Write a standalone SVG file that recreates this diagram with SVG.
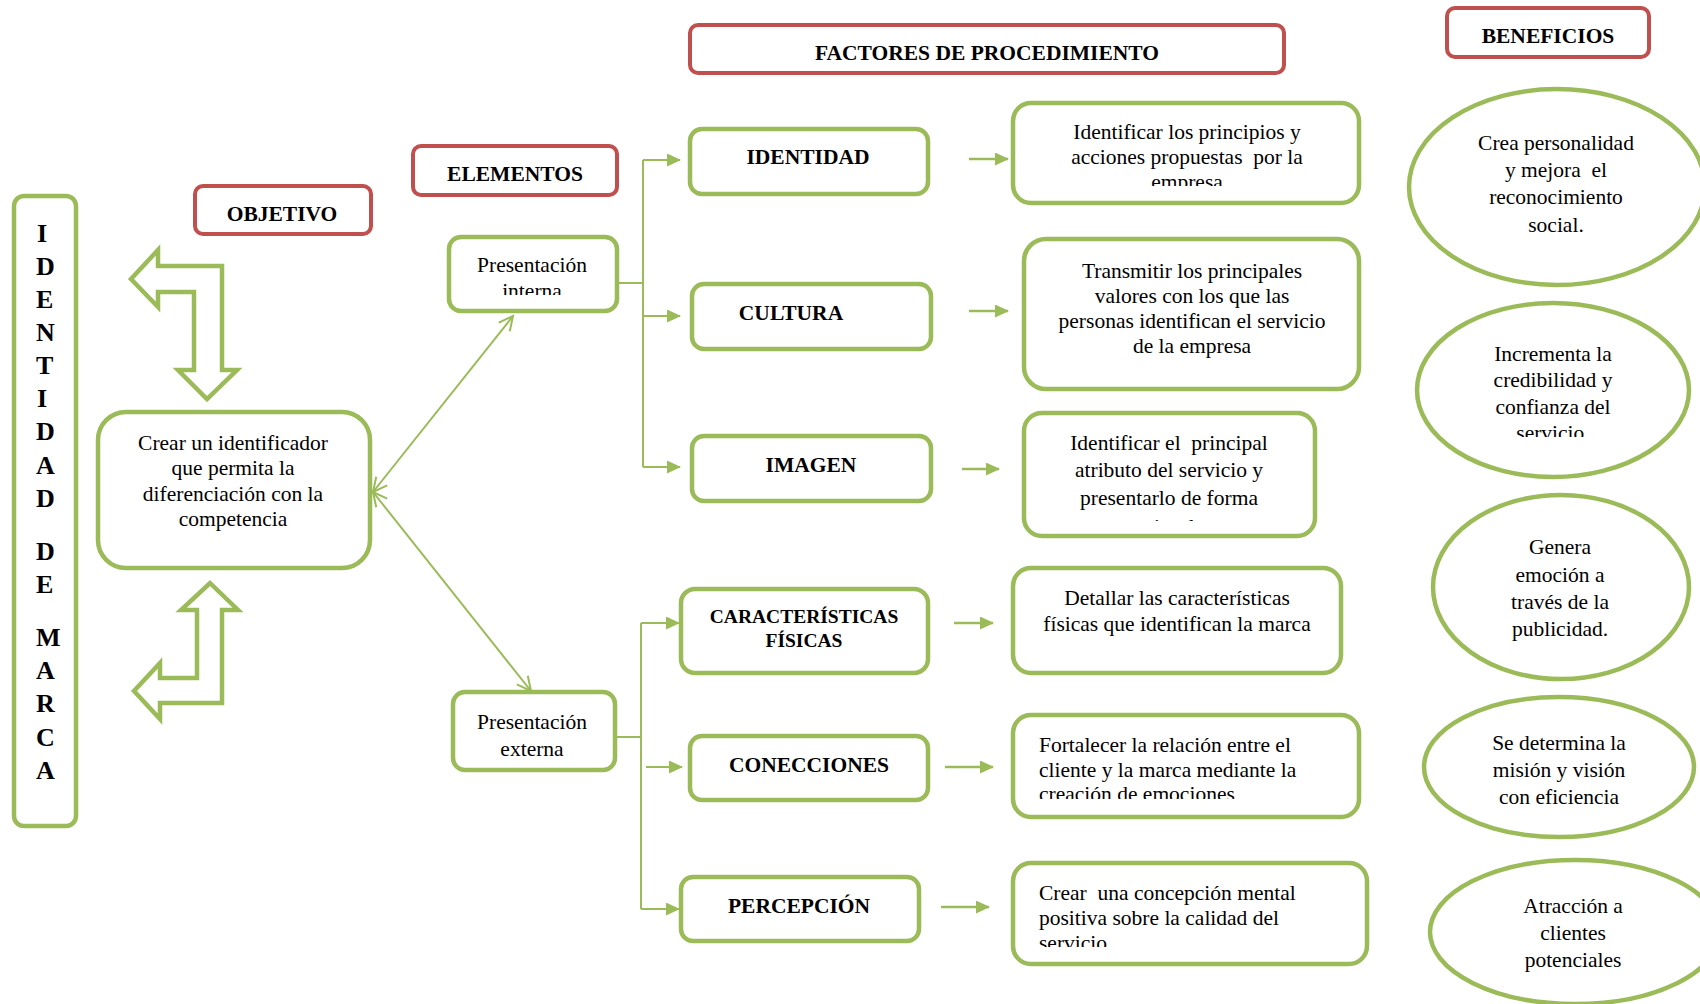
<svg xmlns="http://www.w3.org/2000/svg" width="1700" height="1004" viewBox="0 0 1700 1004">
  <style>
    .g { fill: #ffffff; stroke: #9BBB59; stroke-width: 4.5; }
    .r { fill: #ffffff; stroke: #C0504D; stroke-width: 4; }
    .t { font-family: "Liberation Serif", "Times New Roman", serif; font-size: 21.5px; fill: #000000; }
    .b { font-weight: bold; }
    .c { text-anchor: middle; }
    .v { font-family: "Liberation Serif", "Times New Roman", serif; font-size: 26px; font-weight: bold; fill: #000000; }
    .ln { fill: none; stroke: #9BBB59; stroke-width: 2; }
    .sa { fill: none; stroke: #9BBB59; stroke-width: 2.5; }
  </style>
  <defs>
    <marker id="tri" viewBox="0 0 14 13" refX="13" refY="6.5" markerWidth="14" markerHeight="13" markerUnits="userSpaceOnUse" orient="auto">
      <path d="M0,0 L14,6.5 L0,13 z" fill="#9BBB59"/>
    </marker>
    <marker id="vee" viewBox="-2 -2 18 18" refX="14" refY="7" markerWidth="18" markerHeight="18" markerUnits="userSpaceOnUse" orient="auto-start-reverse">
      <path d="M0,0 L14,7 L0,14" fill="none" stroke="#9BBB59" stroke-width="2"/>
    </marker>
    <clipPath id="clipInterna"><rect x="449" y="237" width="168" height="58"/></clipPath>
    <clipPath id="clipD1"><rect x="1013" y="103" width="346" height="83"/></clipPath>
    <clipPath id="clipD3"><rect x="1024" y="413" width="291" height="108"/></clipPath>
    <clipPath id="clipD5"><rect x="1013" y="715" width="346" height="84"/></clipPath>
    <clipPath id="clipD6"><rect x="1013" y="863" width="354" height="84"/></clipPath>
    <clipPath id="clipE2"><rect x="1417" y="303" width="273" height="134"/></clipPath>
  </defs>

  <!-- connectors -->
  <g id="connectors">
    <!-- internal presentation branch -->
    <path class="ln" d="M617,283 H643 M643,160 V467"/>
    <path class="ln" d="M643,160 H680" marker-end="url(#tri)"/>
    <path class="ln" d="M643,316 H680" marker-end="url(#tri)"/>
    <path class="ln" d="M643,467 H680" marker-end="url(#tri)"/>
    <!-- external presentation branch -->
    <path class="ln" d="M615,737 H641 M641,623 V909"/>
    <path class="ln" d="M641,623 H679" marker-end="url(#tri)"/>
    <path class="ln" d="M646,767 H682" marker-end="url(#tri)"/>
    <path class="ln" d="M641,909 H679" marker-end="url(#tri)"/>
    <!-- factor to description arrows -->
    <path class="sa" d="M969,159 H1008" marker-end="url(#tri)"/>
    <path class="sa" d="M969,311 H1008" marker-end="url(#tri)"/>
    <path class="sa" d="M962,469 H999" marker-end="url(#tri)"/>
    <path class="sa" d="M954,623 H993" marker-end="url(#tri)"/>
    <path class="sa" d="M945,767 H993" marker-end="url(#tri)"/>
    <path class="sa" d="M941,907 H989" marker-end="url(#tri)"/>
    <!-- objective to presentations (double headed) -->
    <path class="ln" d="M373,492 L513,316" marker-start="url(#vee)" marker-end="url(#vee)"/>
    <path class="ln" d="M373,492 L531,691" marker-start="url(#vee)" marker-end="url(#vee)"/>
    <!-- bent block arrows -->
    <polygon class="g" points="131,279 158,250 158,266 222,266 222,370 237,370 207,399 178,370 194,370 194,292 158,292 158,307"/>
    <polygon class="g" points="210,583 238,610 222,610 222,703 160,703 160,719 134,691 160,663 160,678 197,678 197,610 181,610"/>
  </g>

  <!-- vertical title -->
  <g id="identidad-de-marca">
    <rect class="g" x="14" y="196" width="62" height="630" rx="10"/>
    <text class="v" x="37" y="242">I</text>
    <text class="v" x="36" y="275">D</text>
    <text class="v" x="36" y="308">E</text>
    <text class="v" x="36" y="341">N</text>
    <text class="v" x="36" y="374">T</text>
    <text class="v" x="37" y="407">I</text>
    <text class="v" x="36" y="440">D</text>
    <text class="v" x="36" y="474">A</text>
    <text class="v" x="36" y="507">D</text>
    <text class="v" x="36" y="560">D</text>
    <text class="v" x="36" y="593">E</text>
    <text class="v" x="36" y="646">M</text>
    <text class="v" x="36" y="679">A</text>
    <text class="v" x="36" y="712">R</text>
    <text class="v" x="36" y="746">C</text>
    <text class="v" x="36" y="779">A</text>
  </g>

  <!-- section headers -->
  <g id="objetivo">
    <rect class="r" x="195" y="186" width="176" height="48" rx="8"/>
    <text class="t b c" x="282" y="221">OBJETIVO</text>
  </g>
  <g id="elementos">
    <rect class="r" x="413" y="146" width="204" height="49" rx="8"/>
    <text class="t b c" x="515" y="181">ELEMENTOS</text>
  </g>
  <g id="factores">
    <rect class="r" x="690" y="25" width="594" height="48" rx="8"/>
    <text class="t b c" x="987" y="60">FACTORES DE PROCEDIMIENTO</text>
  </g>
  <g id="beneficios">
    <rect class="r" x="1447" y="8" width="202" height="49" rx="8"/>
    <text class="t b c" x="1548" y="43">BENEFICIOS</text>
  </g>

  <!-- objective -->
  <g id="objetivo-texto">
    <rect class="g" x="98" y="412" width="272" height="156" rx="28"/>
    <text class="t c" x="233" y="450">Crear un identificador</text>
    <text class="t c" x="233" y="475">que permita la</text>
    <text class="t c" x="233" y="501">diferenciación con la</text>
    <text class="t c" x="233" y="526">competencia</text>
  </g>

  <!-- elements -->
  <g id="presentacion-interna">
    <rect class="g" x="449" y="237" width="168" height="74" rx="12"/>
    <g clip-path="url(#clipInterna)">
      <text class="t c" x="532" y="272">Presentación</text>
      <text class="t c" x="532" y="298">interna</text>
    </g>
  </g>
  <g id="presentacion-externa">
    <rect class="g" x="453" y="692" width="162" height="78" rx="12"/>
    <text class="t c" x="532" y="729">Presentación</text>
    <text class="t c" x="532" y="756">externa</text>
  </g>

  <!-- factors -->
  <g id="identidad">
    <rect class="g" x="690" y="129" width="238" height="65" rx="12"/>
    <text class="t b c" x="808" y="164">IDENTIDAD</text>
  </g>
  <g id="cultura">
    <rect class="g" x="692" y="284" width="239" height="65" rx="12"/>
    <text class="t b c" x="791" y="320">CULTURA</text>
  </g>
  <g id="imagen">
    <rect class="g" x="692" y="436" width="239" height="65" rx="12"/>
    <text class="t b c" x="811" y="472">IMAGEN</text>
  </g>
  <g id="caracteristicas">
    <rect class="g" x="681" y="589" width="247" height="84" rx="14"/>
    <text class="t b c" x="804" y="623" style="font-size:19.5px">CARACTERÍSTICAS</text>
    <text class="t b c" x="804" y="647" style="font-size:19.5px">FÍSICAS</text>
  </g>
  <g id="conecciones">
    <rect class="g" x="690" y="736" width="238" height="64" rx="12"/>
    <text class="t b c" x="809" y="772">CONECCIONES</text>
  </g>
  <g id="percepcion">
    <rect class="g" x="681" y="877" width="238" height="64" rx="12"/>
    <text class="t b c" x="799" y="913">PERCEPCIÓN</text>
  </g>

  <!-- descriptions -->
  <g id="desc-identidad">
    <rect class="g" x="1013" y="103" width="346" height="100" rx="18"/>
    <g clip-path="url(#clipD1)">
      <text class="t c" x="1187" y="139">Identificar los principios y</text>
      <text class="t c" x="1187" y="164" xml:space="preserve">acciones propuestas  por la</text>
      <text class="t c" x="1187" y="189">empresa</text>
    </g>
  </g>
  <g id="desc-cultura">
    <rect class="g" x="1024" y="239" width="335" height="150" rx="22"/>
    <text class="t c" x="1192" y="278">Transmitir los principales</text>
    <text class="t c" x="1192" y="303">valores con los que las</text>
    <text class="t c" x="1192" y="328">personas identifican el servicio</text>
    <text class="t c" x="1192" y="353">de la empresa</text>
  </g>
  <g id="desc-imagen">
    <rect class="g" x="1024" y="413" width="291" height="123" rx="18"/>
    <g clip-path="url(#clipD3)">
      <text class="t c" x="1169" y="450" xml:space="preserve">Identificar el  principal</text>
      <text class="t c" x="1169" y="477">atributo del servicio y</text>
      <text class="t c" x="1169" y="505">presentarlo de forma</text>
      <text class="t c" x="1169" y="534">visual</text>
    </g>
  </g>
  <g id="desc-caracteristicas">
    <rect class="g" x="1013" y="568" width="328" height="105" rx="18"/>
    <text class="t c" x="1177" y="605">Detallar las características</text>
    <text class="t c" x="1177" y="631">físicas que identifican la marca</text>
  </g>
  <g id="desc-conecciones">
    <rect class="g" x="1013" y="715" width="346" height="102" rx="18"/>
    <g clip-path="url(#clipD5)">
      <text class="t" x="1039" y="752">Fortalecer la relación entre el</text>
      <text class="t" x="1039" y="777">cliente y la marca mediante la</text>
      <text class="t" x="1039" y="801">creación de emociones</text>
    </g>
  </g>
  <g id="desc-percepcion">
    <rect class="g" x="1013" y="863" width="354" height="101" rx="18"/>
    <g clip-path="url(#clipD6)">
      <text class="t" x="1039" y="900" xml:space="preserve">Crear  una concepción mental</text>
      <text class="t" x="1039" y="925">positiva sobre la calidad del</text>
      <text class="t" x="1039" y="950">servicio.</text>
    </g>
  </g>

  <!-- benefits -->
  <g id="beneficio-1">
    <ellipse class="g" cx="1557" cy="187" rx="148" ry="98"/>
    <text class="t c" x="1556" y="150">Crea personalidad</text>
    <text class="t c" x="1556" y="177" xml:space="preserve">y mejora  el</text>
    <text class="t c" x="1556" y="204">reconocimiento</text>
    <text class="t c" x="1556" y="232">social.</text>
  </g>
  <g id="beneficio-2">
    <ellipse class="g" cx="1553" cy="390" rx="136" ry="87"/>
    <g clip-path="url(#clipE2)">
      <text class="t c" x="1553" y="361">Incrementa la</text>
      <text class="t c" x="1553" y="387">credibilidad y</text>
      <text class="t c" x="1553" y="414">confianza del</text>
      <text class="t c" x="1553" y="440">servicio.</text>
    </g>
  </g>
  <g id="beneficio-3">
    <ellipse class="g" cx="1561" cy="587" rx="128" ry="92"/>
    <text class="t c" x="1560" y="554">Genera</text>
    <text class="t c" x="1560" y="582">emoción a</text>
    <text class="t c" x="1560" y="609">través de la</text>
    <text class="t c" x="1560" y="636">publicidad.</text>
  </g>
  <g id="beneficio-4">
    <ellipse class="g" cx="1559" cy="767" rx="135" ry="70"/>
    <text class="t c" x="1559" y="750">Se determina la</text>
    <text class="t c" x="1559" y="777">misión y visión</text>
    <text class="t c" x="1559" y="804">con eficiencia</text>
  </g>
  <g id="beneficio-5">
    <ellipse class="g" cx="1575" cy="932" rx="145" ry="72"/>
    <text class="t c" x="1573" y="913">Atracción a</text>
    <text class="t c" x="1573" y="940">clientes</text>
    <text class="t c" x="1573" y="967">potenciales</text>
  </g>
</svg>
